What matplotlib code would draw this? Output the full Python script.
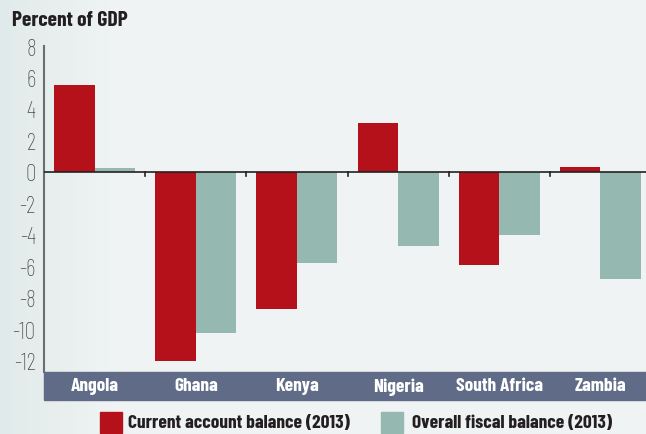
import numpy as np
import matplotlib
matplotlib.use("Agg")
import matplotlib.pyplot as plt
from matplotlib.patches import Rectangle
from matplotlib.colors import LinearSegmentedColormap
from matplotlib import font_manager as fm

countries = ["Angola", "Ghana", "Kenya", "Nigeria", "South Africa", "Zambia"]
current_account = [5.5, -12.0, -8.7, 3.1, -5.9, 0.3]
fiscal_balance = [0.25, -10.2, -5.8, -4.7, -4.0, -6.8]
series_labels = ["Current account balance (2013)", "Overall fiscal balance (2013)"]
yticks = [8, 6, 4, 2, 0, -2, -4, -6, -8, -10, -12]

RED = "#b5111b"
TEAL = "#95b8b1"
BAND = "#5f6b87"
BG = "#eff3f3"

names = {f.name for f in fm.fontManager.ttflist}
def pick(cands):
    for c in cands:
        if c in names:
            return [c, "DejaVu Sans"]
    return ["DejaVu Sans"]
COND = pick(["Barlow Condensed", "Barlow Semi Condensed", "Asap Condensed", "Archivo Narrow"])

W, H = 646, 435
fig = plt.figure(figsize=(W / 100, H / 100), dpi=100, facecolor=BG)

# background gradient on the left
bgax = fig.add_axes([0, 0, 1, 1], zorder=-10)
grad = np.clip(np.linspace(0, 1, 200) * 6, 0, 1)[None, :]
cmap = LinearSegmentedColormap.from_list("bg", ["#e1eaea", BG])
bgax.imshow(grad, aspect="auto", cmap=cmap, extent=[0, 1, 0, 1])
bgax.set_axis_off()

left, top, bottom = 44 / W, 47 / H, 373 / H
ax = fig.add_axes([left, 1 - bottom, 1 - left, bottom - top])
ax.patch.set_alpha(0)

x = np.arange(len(countries))
w = 0.4
ax.bar(x - w / 2, current_account, w, color=RED, zorder=2)
ax.bar(x + w / 2, fiscal_balance, w, color=TEAL, zorder=2)

ax.set_xlim(-0.5, 5.45)
ax.set_ylim(-12.7, 8)
ax.axhline(0, color="#222222", lw=1.2, zorder=3)

# boundary ticks on zero line
for b in x[1:] - 0.5:
    ax.plot([b, b], [0, -0.25], color="#222222", lw=1.2, zorder=3, clip_on=False)

for s in ["top", "right", "bottom"]:
    ax.spines[s].set_visible(False)
ax.spines["left"].set_color("#6d6d6d")
ax.spines["left"].set_linewidth(1.5)
ax.set_yticks(yticks)
ax.set_yticklabels([str(v) for v in yticks], family=COND, fontsize=17, color="#4a4a4a",
                   fontweight="light")
ax.tick_params(axis="y", length=0, pad=6)
ax.set_xticks([])

# category band (drawn inside the axes so labels sit on top)
band_h = 28 / (373 - 47)
ax.add_patch(Rectangle((0, -band_h), 1, band_h, transform=ax.transAxes,
                       color=BAND, zorder=5, clip_on=False))
for xi, name in zip(x, countries):
    ax.text(xi, -band_h / 2, name, transform=ax.get_xaxis_transform(), ha="center",
            va="center", color="white", fontsize=14, fontweight="bold", family=COND,
            zorder=6, clip_on=False)

fig.text(12 / W, 1 - 20 / H, "Percent of GDP", fontsize=15.5, fontweight="bold",
         family=COND, color="#231f20", va="center", ha="left")

# legend
for (sx, tx), lab, col in zip([(100, 128), (381, 412)], series_labels, [RED, TEAL]):
    fig.add_artist(Rectangle((sx / W, 1 - 434 / H), 22 / W, 21 / H, transform=fig.transFigure,
                             color=col))
    fig.text(tx / W, 1 - 424 / H, lab, fontsize=14, fontweight="bold", family=COND,
             color="#231f20", va="center", ha="left")

fig.savefig("out.png", dpi=100, facecolor=BG)
